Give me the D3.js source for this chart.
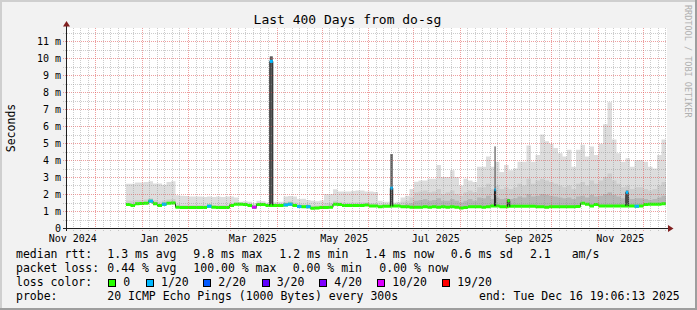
<!DOCTYPE html>
<html><head><meta charset="utf-8">
<script src="https://cdn.jsdelivr.net/npm/d3@7"></script>
<style>body{margin:0;background:#f2f2f2}svg{display:block}text{font-family:"DejaVu Sans Mono",monospace}</style>
</head><body><svg id="c" width="697" height="310"></svg>
<script>
// ---------- data ----------
const title = "Last 400 Days from do-sg";
const startTime = new Date(2024,10,11,19,6,13);
const endTime = new Date(2025,11,16,19,6,13);
const dataStart = new Date(2024,11,21,11,0,0);
const stepDays = 3;
const median = [
1.38,1.33,1.42,1.44,1.45,1.58,1.42,1.32,1.40,1.45,
1.47,1.22,1.20,1.20,1.20,1.20,1.20,1.20,1.28,1.22,
1.20,1.20,1.20,1.33,1.40,1.40,1.38,1.33,1.22,1.38,
1.38,1.33,1.33,1.33,1.33,1.36,1.40,1.32,1.26,1.25,
1.25,1.16,1.18,1.20,1.20,1.22,1.40,1.38,1.33,1.33,
1.33,1.33,1.33,1.36,1.30,1.30,1.25,1.28,1.28,1.30,
1.30,1.25,1.25,1.22,1.22,1.22,1.25,1.22,1.25,1.22,
1.25,1.22,1.25,1.22,1.18,1.20,1.25,1.25,1.25,1.22,
1.25,1.30,1.30,1.25,1.25,1.28,1.28,1.28,1.28,1.28,
1.28,1.25,1.25,1.22,1.25,1.25,1.25,1.25,1.25,1.25,
1.27,1.45,1.40,1.30,1.38,1.30,1.30,1.30,1.30,1.30,
1.30,1.30,1.30,1.28,1.30,1.38,1.40,1.40,1.40,1.42];
const loss = [
0,0,0,0,0,1,0,0,1,0, 0,0,0,0,0,0,0,0,1,0, 0,0,0,0,0,0,0,0,5,0,
0,0,0,0,0,1,1,0,1,0, 1,0,0,0,0,0,0,0,0,0, 0,0,0,0,0,0,0,0,0,0,
0,0,0,0,0,0,0,0,0,0, 0,0,0,0,0,0,0,0,0,0, 0,0,0,0,0,0,0,0,0,0,
0,0,0,0,0,0,0,0,0,0, 0,0,0,0,0,0,0,0,0,0, 0,0,0,1,0,0,0,0,0,0];
const smokeTop = [
2.60,2.60,2.68,2.68,2.70,2.75,2.62,2.62,2.55,2.70,
2.75,1.92,1.90,1.88,1.85,1.85,1.85,1.82,1.85,1.82,
1.85,1.82,1.85,1.85,1.80,1.55,1.58,1.55,1.45,1.60,
1.58,1.50,1.52,1.55,1.55,1.85,1.88,1.85,1.70,1.72,
1.65,1.60,1.58,1.62,2.00,2.00,2.28,2.15,2.15,2.15,
2.18,2.20,2.20,2.15,2.15,2.12,1.60,1.55,1.55,1.50,
1.55,1.80,1.90,2.30,2.72,2.80,2.80,2.90,2.90,3.70,
3.00,3.00,3.40,3.00,2.50,2.90,2.80,2.70,3.60,3.60,
4.20,3.60,3.90,3.30,3.70,3.40,3.50,3.90,3.90,4.85,
3.90,4.30,5.50,5.10,4.95,4.70,4.40,4.20,4.60,3.60,
4.60,4.90,4.20,4.80,4.30,4.95,6.10,7.40,5.20,4.40,
3.90,4.10,3.60,4.00,4.00,3.90,3.60,3.50,4.30,5.20];
const smokeMid = [
1.62,1.60,1.65,1.65,1.68,1.75,1.65,1.55,1.62,1.68,
1.70,1.38,1.35,1.35,1.36,1.36,1.35,1.35,1.40,1.36,
1.35,1.35,1.36,1.45,1.50,1.48,1.46,1.44,1.36,1.48,
1.48,1.44,1.44,1.44,1.44,1.55,1.58,1.50,1.42,1.40,
1.40,1.32,1.33,1.35,1.45,1.45,1.60,1.55,1.50,1.50,
1.50,1.52,1.52,1.52,1.45,1.45,1.38,1.40,1.40,1.42,
1.42,1.55,1.60,1.80,2.10,2.15,2.20,2.10,2.15,2.30,
2.00,2.10,2.20,2.00,1.90,2.10,2.20,2.10,2.40,2.40,
2.60,2.30,2.50,2.30,2.40,2.30,2.40,2.60,2.50,2.90,
2.60,2.80,2.90,2.80,2.70,2.60,2.50,2.40,2.50,2.30,
2.60,2.70,2.50,2.80,2.60,2.80,3.00,3.20,2.80,2.60,
2.40,2.50,2.30,2.40,2.40,2.30,2.20,2.30,2.50,2.70];
const smokeLow = [
1.45,1.40,1.48,1.50,1.52,1.64,1.48,1.40,1.47,1.52,
1.54,1.28,1.26,1.26,1.26,1.26,1.26,1.26,1.33,1.28,
1.26,1.26,1.26,1.38,1.45,1.44,1.43,1.39,1.28,1.43,
1.43,1.39,1.39,1.39,1.39,1.43,1.46,1.38,1.32,1.31,
1.31,1.22,1.24,1.26,1.27,1.29,1.46,1.44,1.39,1.39,
1.39,1.40,1.40,1.42,1.36,1.36,1.31,1.34,1.34,1.36,
1.36,1.35,1.40,1.45,1.60,1.65,1.70,1.60,1.65,1.75,
1.60,1.60,1.70,1.60,1.50,1.60,1.70,1.60,1.80,1.75,
1.90,1.70,1.80,1.70,1.75,1.70,1.75,1.85,1.80,2.00,
1.85,1.90,2.00,1.95,1.90,1.85,1.80,1.75,1.80,1.70,
1.85,1.90,1.80,1.95,1.85,1.90,2.00,2.10,1.95,1.85,
1.75,1.80,1.70,1.75,1.75,1.70,1.65,1.70,1.80,1.90];
// short outlier events
const spikeDates = [new Date(2025,2,28,8), new Date(2025,5,16,12), new Date(2025,7,24,12), new Date(2025,8,2,12), new Date(2025,10,20,12)];
const spikeDays = [2.0, 1.6, 0.8, 1.6, 1.6];
const spikeBase = [1.33, 1.28, 1.30, 1.25, 1.30];
const spikeMedian = [9.8, 2.35, 2.25, 1.60, 2.10];
const spikeTop = [10.1, 4.35, 4.8, 1.70, 2.20];
const spikeLoss = [1, 1, 1, 0, 1];

const lossLabels = ["0","1/20","2/20","3/20","4/20","10/20","19/20"];
const lossColors = ["#26ff00","#00b8ff","#0059ff","#5e00ff","#7e00ff","#dd00ff","#ff0000"];
const yTicks = [0,1,2,3,4,5,6,7,8,9,10,11];
const yTickLabels = ["0","1 m","2 m","3 m","4 m","5 m","6 m","7 m","8 m","9 m","10 m","11 m"];
const xLabelMonths = [new Date(2024,10,1), new Date(2025,0,1), new Date(2025,2,1), new Date(2025,4,1), new Date(2025,6,1), new Date(2025,8,1), new Date(2025,10,1)];
const legendRtt = [["median rtt:",16],["1.3 ms avg",107.3],["9.8 ms max",193.3],["1.2 ms min",279.3],["1.4 ms now",365],["0.6 ms sd",450.7],["2.1",530],["am/s",571.7]];
const legendLoss = [["packet loss:",16],["0.44 % avg",107.3],["100.00 % max",193.3],["0.00 % min",292.7],["0.00 % now",379.3]];
const legendProbe = [["probe:",16],["20 ICMP Echo Pings (1000 Bytes) every 300s",107.3],["end: Tue Dec 16 19:06:13 2025",479]];
const swatchX = [108.3,146,203.3,261.7,319.3,377.3,442.3];

// ---------- layout ----------
const W=697,H=310, X0=66.5, X1=666.5, YB=228, YT=28, YMAX=(YB-YT)/17;
const svg=d3.select("#c");
const x=d3.scaleTime().domain([startTime,endTime]).range([X0,X1]);
const y=d3.scaleLinear().domain([0,YMAX]).range([YB,YT]);

// frame
svg.append("rect").attr("width",W).attr("height",H).attr("fill","#f2f2f2");
svg.append("rect").attr("x",0).attr("y",0).attr("width",W).attr("height",2).attr("fill","#cfcfcf");
svg.append("rect").attr("x",0).attr("y",0).attr("width",2).attr("height",H).attr("fill","#cfcfcf");
svg.append("rect").attr("x",0).attr("y",H-2).attr("width",W).attr("height",2).attr("fill","#9e9e9e");
svg.append("rect").attr("x",W-2).attr("y",0).attr("width",2).attr("height",H).attr("fill","#9e9e9e");
svg.append("rect").attr("x",67).attr("y",YT).attr("width",600).attr("height",YB-YT).attr("fill","#fff");

// data points
const n=median.length;
const pts=d3.range(n+1).map(i=>{const k=Math.min(i,n-1);return {t:new Date(+dataStart+i*stepDays*864e5),m:median[k],lo:smokeLow[k],mi:smokeMid[k],tp:smokeTop[k],l:loss[k]};});
const g=svg.append("g");
const band=(a,b,col)=>g.append("path").datum(pts).attr("fill",col)
  .attr("d",d3.area().curve(d3.curveStepAfter).x(d=>x(d.t)).y0(d=>y(d[a])).y1(d=>y(d[b])));
band("m","tp","#dddddd");
band("m","mi","#cdcdcd");
band("m","lo","#b6b6b6");

// spikes smoke
spikeDates.forEach((d,i)=>{
  const t0=new Date(+d-spikeDays[i]/2*864e5), t1=new Date(+d+spikeDays[i]/2*864e5);
  g.append("rect").attr("x",x(t0)).attr("width",x(t1)-x(t0)).attr("y",y(spikeTop[i])).attr("height",y(spikeBase[i])-y(spikeTop[i])).attr("fill","#5a5a5a");
});
// median black line
g.append("path").datum(pts).attr("fill","none").attr("stroke","#202020").attr("stroke-width",1)
  .attr("d",d3.line().curve(d3.curveStepAfter).x(d=>x(d.t)).y(d=>y(d.m)));
// colored median band
g.append("path").datum(pts).attr("fill",lossColors[0])
  .attr("d",d3.area().curve(d3.curveStepAfter).x(d=>x(d.t)).y0(d=>y(d.m)+1.5).y1(d=>y(d.m)-1.5));
pts.slice(0,n).forEach((d,i)=>{ if(d.l>0){
  g.append("rect").attr("x",x(d.t)).attr("width",x(pts[i+1].t)-x(d.t)).attr("y",y(d.m)-1.5).attr("height",3).attr("fill",lossColors[d.l]);
}});
// spikes median
spikeDates.forEach((d,i)=>{
  const x0=x(new Date(+d-spikeDays[i]/2*864e5)), x1=x(new Date(+d+spikeDays[i]/2*864e5));
  g.append("path").attr("fill","none").attr("stroke","#202020").attr("stroke-width",1)
    .attr("d",`M${x0},${y(spikeBase[i])}V${y(spikeMedian[i])}H${x1}V${y(spikeBase[i])}`);
  g.append("rect").attr("x",x0).attr("width",x1-x0).attr("y",y(spikeMedian[i])-1.5).attr("height",3).attr("fill",lossColors[spikeLoss[i]]);
});

// grid (on top)
const gg=svg.append("g").attr("shape-rendering","crispEdges");
d3.range(1,24).map(k=>k*0.5).filter(v=>v<=YMAX).forEach(v=>{
  const maj=Number.isInteger(v), yy=Math.round(y(v))+0.5;
  gg.append("line").attr("x1",63).attr("x2",X1).attr("y1",yy).attr("y2",yy)
    .attr("stroke",maj?"rgba(222,79,79,0.55)":"rgba(143,143,143,0.45)").attr("stroke-dasharray","1,1");
});
d3.timeDay.range(startTime,endTime).filter(d=>[1,6,11,16,21,26].includes(d.getDate())).forEach(d=>{
  const maj=d.getDate()===1, xx=Math.round(x(d))+0.5;
  if(xx<X0+1) return;
  gg.append("line").attr("x1",xx).attr("x2",xx).attr("y1",YT).attr("y2",YB+3)
    .attr("stroke",maj?"rgba(222,79,79,0.55)":"rgba(143,143,143,0.45)").attr("stroke-dasharray","1,1");
});
// axes
gg.append("line").attr("x1",63).attr("x2",669).attr("y1",YB+0.5).attr("y2",YB+0.5).attr("stroke","#1f1f1f");
gg.append("line").attr("x1",66.5).attr("x2",66.5).attr("y1",YB+3).attr("y2",25).attr("stroke","#1f1f1f");
svg.append("path").attr("fill","#801f1f").attr("d","M668,225L673.5,228.5L668,232Z");
svg.append("path").attr("fill","#801f1f").attr("d","M63,26.5L66.5,21L70,26.5Z");

// tick labels
svg.selectAll(".yl").data(yTicks).enter().append("text").attr("x",61).attr("y",v=>y(v)+3.5)
  .attr("text-anchor","end").attr("font-size","10px").attr("fill","#000").text((v,i)=>yTickLabels[i]);
svg.selectAll(".xl").data(xLabelMonths).enter().append("text").attr("x",d=>x(d3.timeDay.offset(d,15)))
  .attr("y",242).attr("text-anchor","middle").attr("font-size","10px").attr("fill","#000").text(d3.timeFormat("%b %Y"));

// titles
svg.append("text").attr("x",347.5).attr("y",24).attr("text-anchor","middle").attr("font-size","13px").text(title);
svg.append("text").attr("transform","translate(14.5,128) rotate(-90)").attr("text-anchor","middle").attr("font-size","11.5px").text("Seconds");
svg.append("text").attr("transform","translate(685,5) rotate(90)").attr("font-size","8.5px").attr("fill","#b0b0b0").text("RRDTOOL / TOBI OETIKER");

// legend
const leg=(items,yy)=>items.forEach(([s,xx])=>svg.append("text").attr("x",xx).attr("y",yy).attr("font-size","11.5px").attr("xml:space","preserve").text(s));
leg(legendRtt,258); leg(legendLoss,272);
leg([["loss color:",16]],286);
lossLabels.forEach((lab,i)=>{
  svg.append("rect").attr("x",swatchX[i]+0.5).attr("y",279.5).attr("width",7).attr("height",7).attr("fill",lossColors[i]).attr("stroke","#000").attr("shape-rendering","crispEdges");
  svg.append("text").attr("x",swatchX[i]+15).attr("y",286).attr("font-size","11.5px").text(lab);
});
leg(legendProbe,300);
</script></body></html>
